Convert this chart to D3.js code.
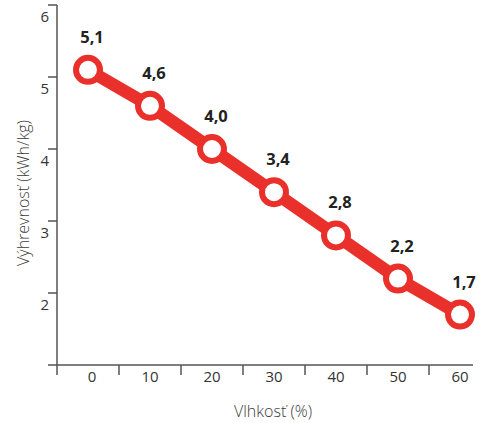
<!DOCTYPE html>
<html>
<head>
<meta charset="utf-8">
<script src="https://cdn.jsdelivr.net/npm/d3@7"></script>
<style>
  html, body { margin: 0; padding: 0; background: #fff; }
  svg { display: block; }
  text { font-family: "Open Sans", "Noto Sans", sans-serif; }
</style>
</head>
<body>
<svg id="chart" width="484" height="423"></svg>
<script>
// Moisture content (%) and the resulting calorific value (kWh/kg)
const moisture = [0, 10, 20, 30, 40, 50, 60];
const heatValue = [5.1, 4.6, 4.0, 3.4, 2.8, 2.2, 1.7];
const valueLabels = ["5,1", "4,6", "4,0", "3,4", "2,8", "2,2", "1,7"];
const yTicks = [1, 2, 3, 4, 5, 6];
const yTickLabels = ["", "2", "3", "4", "5", "6"];
const xTickEdges = [-5, 5, 15, 25, 35, 45, 55];

const red = "#e9302a";
const axisColor = "#555";

const svg = d3.select("#chart");

const x = d3.scaleLinear().domain([-5, 65]).range([57, 491]);
const y = d3.scaleLinear().domain([1, 6]).range([365, 5]);

// Y axis: ticks on the left, labels sitting just below each tick
const yAxis = svg.append("g");
yAxis.append("line")
  .attr("x1", x(-5)).attr("x2", x(-5))
  .attr("y1", y(1)).attr("y2", y(6))
  .attr("stroke", axisColor).attr("stroke-width", 1.5);
yAxis.selectAll("line.tick").data(yTicks).join("line")
  .attr("class", "tick")
  .attr("x1", x(-5) - 9).attr("x2", x(-5))
  .attr("y1", d => y(d)).attr("y2", d => y(d))
  .attr("stroke", axisColor).attr("stroke-width", 1.5);
yAxis.selectAll("text").data(yTicks).join("text")
  .attr("x", x(-5) - 8)
  .attr("y", d => y(d) + 17)
  .attr("text-anchor", "end")
  .attr("font-size", 15)
  .attr("fill", "#333")
  .text((d, i) => yTickLabels[i]);

// X axis: tick marks between categories, labels centred on each category
const xAxis = svg.append("g");
xAxis.append("line")
  .attr("x1", x(-5)).attr("x2", x(62.1))
  .attr("y1", y(1)).attr("y2", y(1))
  .attr("stroke", axisColor).attr("stroke-width", 1.5);
xAxis.selectAll("line.tick").data(xTickEdges).join("line")
  .attr("class", "tick")
  .attr("x1", d => x(d)).attr("x2", d => x(d))
  .attr("y1", y(1)).attr("y2", y(1) + 10)
  .attr("stroke", axisColor).attr("stroke-width", 1.5);
xAxis.selectAll("text").data(moisture).join("text")
  .attr("x", d => x(d) + (d === 0 ? 4 : 0))
  .attr("y", y(1) + 17)
  .attr("text-anchor", "middle")
  .attr("font-size", 15)
  .attr("fill", "#333")
  .text(d => d);

// Axis titles
svg.append("text")
  .attr("transform", "translate(29,193) rotate(-90)")
  .attr("text-anchor", "middle")
  .attr("font-size", 16)
  .attr("font-weight", 300)
  .attr("fill", "#3a3a3a")
  .text("Výhrevnosť (kWh/kg)");

svg.append("text")
  .attr("x", 273).attr("y", 417)
  .attr("text-anchor", "middle")
  .attr("font-size", 16)
  .attr("font-weight", 300)
  .attr("fill", "#3a3a3a")
  .text("Vlhkosť (%)");

// Data line and markers
const pts = moisture.map((m, i) => ({ m, v: heatValue[i], label: valueLabels[i] }));

svg.append("path")
  .datum(pts)
  .attr("fill", "none")
  .attr("stroke", red)
  .attr("stroke-width", 12.5)
  .attr("d", d3.line().x(d => x(d.m)).y(d => y(d.v)));

svg.selectAll("circle.pt").data(pts).join("circle")
  .attr("class", "pt")
  .attr("cx", d => x(d.m))
  .attr("cy", d => y(d.v))
  .attr("r", 12)
  .attr("fill", "#fff")
  .attr("stroke", red)
  .attr("stroke-width", 6);

svg.selectAll("text.val").data(pts).join("text")
  .attr("class", "val")
  .attr("x", d => x(d.m) + 4)
  .attr("y", d => y(d.v) - 27)
  .attr("text-anchor", "middle")
  .attr("font-size", 16.5)
  .attr("font-weight", 700)
  .attr("fill", "#222")
  .text(d => d.label);
</script>
</body>
</html>
